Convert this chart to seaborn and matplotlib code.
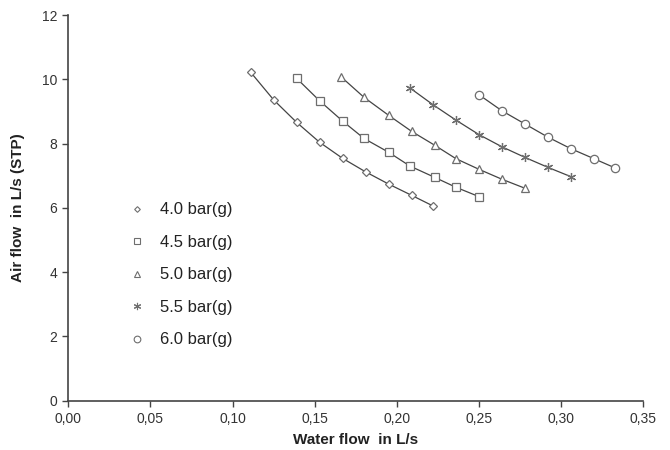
import matplotlib
matplotlib.use("Agg")
import matplotlib.pyplot as plt
from matplotlib.lines import Line2D
from matplotlib.ticker import FuncFormatter, MultipleLocator
import seaborn as sns
import pandas as pd

sns.set_style("white")
plt.rcParams['font.family'] = ['Liberation Sans', 'DejaVu Sans']

labels = ["4.0 bar(g)", "4.5 bar(g)", "5.0 bar(g)", "5.5 bar(g)", "6.0 bar(g)"]

x_40 = [0.111, 0.125, 0.139, 0.153, 0.167, 0.181, 0.195, 0.209, 0.222]
y_40 = [10.22, 9.36, 8.66, 8.04, 7.54, 7.12, 6.74, 6.39, 6.06]

x_45 = [0.139, 0.153, 0.167, 0.180, 0.195, 0.208, 0.223, 0.236, 0.250]
y_45 = [10.03, 9.33, 8.70, 8.16, 7.73, 7.30, 6.95, 6.64, 6.35]

x_50 = [0.166, 0.180, 0.195, 0.209, 0.223, 0.236, 0.250, 0.264, 0.278]
y_50 = [10.08, 9.44, 8.88, 8.38, 7.95, 7.53, 7.20, 6.89, 6.61]

x_55 = [0.208, 0.222, 0.236, 0.250, 0.264, 0.278, 0.292, 0.306]
y_55 = [9.73, 9.21, 8.73, 8.28, 7.90, 7.57, 7.26, 6.97]

x_60 = [0.250, 0.264, 0.278, 0.292, 0.306, 0.320, 0.333]
y_60 = [9.52, 9.02, 8.61, 8.20, 7.84, 7.53, 7.24]

series = [(x_40, y_40), (x_45, y_45), (x_50, y_50), (x_55, y_55), (x_60, y_60)]
markers = ["D", "s", "^", (6, 2, 0), "o"]
msizes = [3.6, 5.5, 5.5, 6.5, 6.0]

fig = plt.figure(figsize=(6.7, 4.5), dpi=100)
ax = fig.add_axes([0.102, 0.1096, 0.858, 0.857])

line_col = "#444444"
mark_col = "#6e6e6e"

handles = []
for (xs, ys), lab, m, ms in zip(series, labels, markers, msizes):
    df = pd.DataFrame({"x": xs, "y": ys})
    sns.lineplot(data=df, x="x", y="y", ax=ax, color=line_col, linewidth=0.9,
                 sort=True, estimator=None)
    ax.plot(df["x"], df["y"], linestyle="none", marker=m, markersize=ms,
            markerfacecolor="white", markeredgecolor=mark_col,
            markeredgewidth=0.9, zorder=3)
    handles.append(Line2D([], [], linestyle="none", marker=m, markersize=ms * 0.8,
                          markerfacecolor="white", markeredgecolor=mark_col,
                          markeredgewidth=0.8, label=lab))

ax.set_xlim(0, 0.35)
ax.set_ylim(0, 12)
ax.xaxis.set_major_locator(MultipleLocator(0.05))
ax.yaxis.set_major_locator(MultipleLocator(2))
ax.xaxis.set_major_formatter(FuncFormatter(lambda v, p: f"{v:.2f}".replace(".", ",")))
ax.yaxis.set_major_formatter(FuncFormatter(lambda v, p: f"{v:.0f}"))

for s in ["top", "right"]:
    ax.spines[s].set_visible(False)
for s in ["left", "bottom"]:
    ax.spines[s].set_color("#444444")
    ax.spines[s].set_linewidth(1.2)

ax.tick_params(axis="both", which="major", direction="out", length=4, width=1,
               color="#444444", labelsize=10, labelcolor="#333333",
               bottom=True, left=True, pad=4)

ax.set_xlabel("Water flow  in L/s", fontsize=11, fontweight="bold", color="#222222", labelpad=5)
ax.set_ylabel("Air flow  in L/s (STP)", fontsize=11, fontweight="bold", color="#222222", labelpad=12)

leg = ax.legend(handles=handles, loc="upper left", bbox_to_anchor=(0.078, 0.553),
                frameon=False, fontsize=12, labelspacing=1.05, handlelength=1.0,
                handletextpad=0.9)
for t in leg.get_texts():
    t.set_color("#222222")

fig.savefig("out.png", dpi=100)
